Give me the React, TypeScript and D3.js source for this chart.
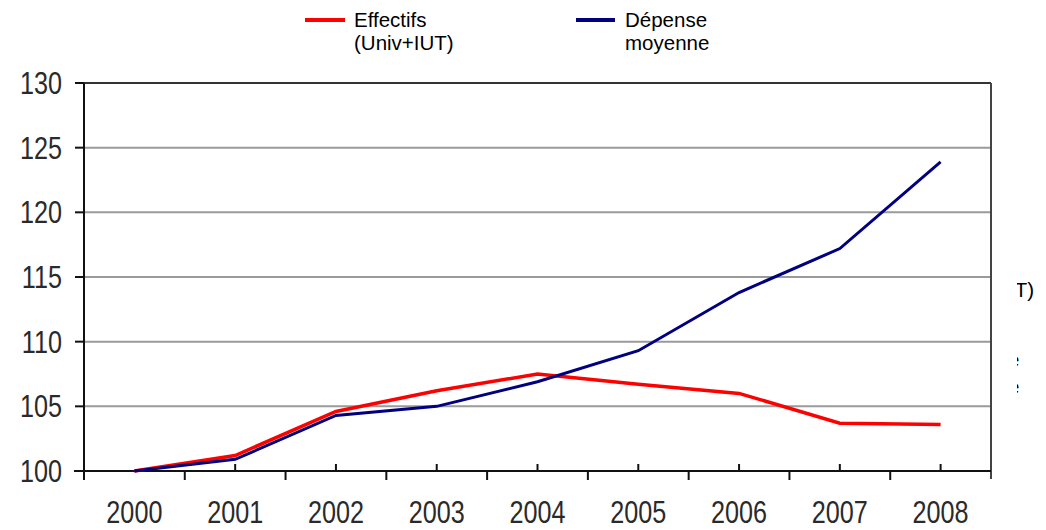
import React from "react";
import * as d3 from "d3";

// values (index, 2000 = 100)
const years = ["2000", "2001", "2002", "2003", "2004", "2005", "2006", "2007", "2008"];
const effectifs = [100, 101.2, 104.6, 106.2, 107.5, 106.7, 106.0, 103.7, 103.6];
const depense = [100, 100.9, 104.3, 105.0, 106.9, 109.3, 113.8, 117.2, 123.9];
const yTicks = [100, 105, 110, 115, 120, 125, 130];

const W = 1046;
const H = 530;
const plot = { left: 84, right: 991, top: 83, bottom: 471 };

const labelFont = "'Liberation Sans', Arial, sans-serif";

function App() {
  const x = d3
    .scaleBand<string>()
    .domain(years)
    .range([plot.left, plot.right]);

  const y = d3
    .scaleLinear()
    .domain([100, 130])
    .range([plot.bottom, plot.top]);

  const line = d3
    .line<number>()
    .x((_, i) => (x(years[i]) as number) + x.bandwidth() / 2)
    .y((d) => y(d));

  const bounds = years.map((yr) => x(yr) as number).concat(plot.right);

  return (
    <svg
      width={W}
      height={H}
      style={{ position: "absolute", left: 0, top: 0, background: "#fff" }}
    >
      <defs>
        <clipPath id="cut">
          <rect x={1017} y={0} width={40} height={H} />
        </clipPath>
      </defs>

      {/* legend */}
      <line x1={305} x2={345} y1={20} y2={20} stroke="#ff0000" strokeWidth={4} />
      <text x={354} y={27} fontFamily={labelFont} fontSize={20.5} fill="#000">
        Effectifs
      </text>
      <text x={354} y={50} fontFamily={labelFont} fontSize={20.5} fill="#000">
        (Univ+IUT)
      </text>
      <line x1={576} x2={615} y1={20} y2={20} stroke="#000080" strokeWidth={4} />
      <text x={625} y={27} fontFamily={labelFont} fontSize={20.5} fill="#000">
        Dépense
      </text>
      <text x={625} y={50} fontFamily={labelFont} fontSize={20.5} fill="#000">
        moyenne
      </text>

      {/* bits of a second legend cut off at the right edge */}
      <g clipPath="url(#cut)" fontFamily={labelFont} fontSize={20.5} fill="#000">
        <text x={1034} y={297} textAnchor="end">(Univ+IUT)</text>
        <text x={1019.5} y={367} textAnchor="end">Dépense</text>
        <text x={1019.5} y={394} textAnchor="end">moyenne</text>
      </g>

      {/* grid */}
      {yTicks.slice(1, -1).map((t) => (
        <line
          key={"g" + t}
          x1={plot.left}
          x2={plot.right}
          y1={y(t)}
          y2={y(t)}
          stroke="#9a9a9a"
          strokeWidth={2}
        />
      ))}

      {/* frame */}
      <line x1={plot.left} x2={plot.right} y1={plot.top} y2={plot.top} stroke="#333" strokeWidth={2} />
      <line x1={plot.right} x2={plot.right} y1={plot.top} y2={plot.bottom + 8} stroke="#444" strokeWidth={2} />
      <line x1={plot.left} x2={plot.left} y1={plot.top} y2={plot.bottom + 9} stroke="#111" strokeWidth={2} />
      <line x1={plot.left - 10} x2={plot.right} y1={plot.bottom} y2={plot.bottom} stroke="#111" strokeWidth={2} />

      {/* y ticks and labels */}
      {yTicks.map((t) => (
        <g key={"y" + t}>
          <line x1={plot.left - 9} x2={plot.left} y1={y(t)} y2={y(t)} stroke="#111" strokeWidth={2} />
          <text
            transform={`translate(62, ${y(t) + 11}) scale(0.84, 1.03)`}
            textAnchor="end"
            fontFamily={labelFont}
            fontSize={30}
            fill="#2a2a2a"
          >
            {t}
          </text>
        </g>
      ))}

      {/* x ticks */}
      {bounds.slice(1, -1).map((b, i) => (
        <line key={"xb" + i} x1={b} x2={b} y1={plot.bottom} y2={plot.bottom + 9} stroke="#111" strokeWidth={2} />
      ))}
      {years.slice(1).map((yr) => {
        const cx = (x(yr) as number) + x.bandwidth() / 2;
        return (
          <line key={"xc" + yr} x1={cx} x2={cx} y1={plot.bottom - 7} y2={plot.bottom} stroke="#111" strokeWidth={2} />
        );
      })}
      {years.map((yr) => (
        <text
          key={"xl" + yr}
          transform={`translate(${(x(yr) as number) + x.bandwidth() / 2}, 523) scale(0.84, 1.03)`}
          textAnchor="middle"
          fontFamily={labelFont}
          fontSize={30}
          fill="#2a2a2a"
        >
          {yr}
        </text>
      ))}

      {/* series */}
      <path d={line(effectifs) ?? ""} fill="none" stroke="#ff0000" strokeWidth={3.5} />
      <path d={line(depense) ?? ""} fill="none" stroke="#000080" strokeWidth={3} />
    </svg>
  );
}

export default App;
